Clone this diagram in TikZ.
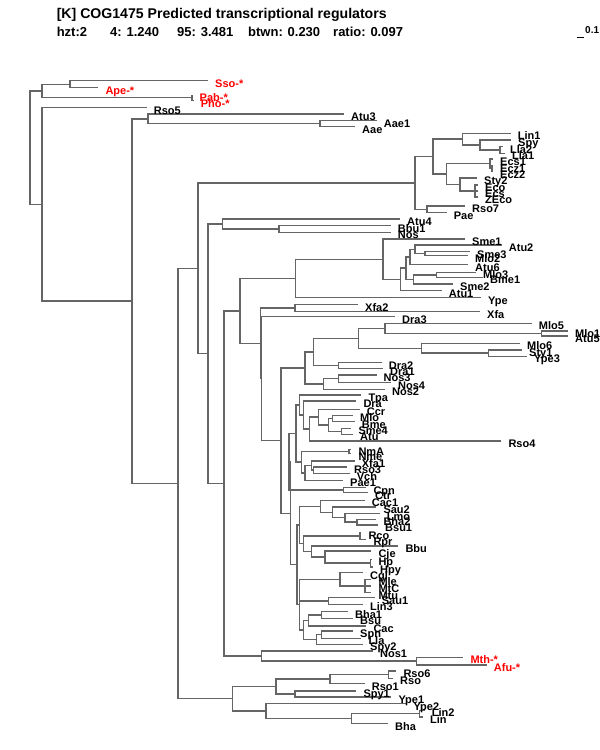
\documentclass[tikz,border=0pt]{standalone}
\usepackage{fontspec}
\setmainfont{Liberation Sans}
\definecolor{ln}{HTML}{656565}
\begin{document}
\begin{tikzpicture}[x=1pt,y=-1pt,
  br/.style={draw=ln,line width=1.4pt},
  lab/.style={anchor=base west,inner sep=0pt,font=\fontsize{11}{13}\selectfont\bfseries,xshift=7pt,yshift=-6.5pt},
  rlab/.style={lab,text=red},
  hdr/.style={anchor=base west,inner sep=0pt,font=\fontsize{13}{16}\selectfont\bfseries}]
\useasboundingbox (0,0) rectangle (600,750);
% header
\node[hdr,font=\fontsize{14.1}{16}\selectfont\bfseries] (title) at (56.6,18.5) {[K] COG1475 Predicted transcriptional regulators};
\node[hdr] (h1) at (56.6,36) {hzt:2};
\node[hdr] (h2) at (110,36) {4: 1.240};
\node[hdr] (h3) at (177,36) {95: 3.481};
\node[hdr] (h4) at (248,36) {btwn: 0.230};
\node[hdr] (h5) at (333,36) {ratio: 0.097};
\coordinate (sb1) at (577,37); \coordinate (sb2) at (584,37);
\draw[black,line width=1pt] (sb1) -- (sb2);
\node[anchor=base west,inner sep=0pt,font=\fontsize{10}{12}\selectfont\bfseries] (sbl) at (585,33) {0.1};
% internal nodes
\coordinate (r0) at (30,147.7);
\coordinate (A) at (42,91);
\coordinate (B) at (70,84.2);
\coordinate (PP) at (192,97.75);
\coordinate (C) at (42,204.4);
\coordinate (D) at (132,301.15);
\coordinate (E) at (148,118.8);
\coordinate (E2) at (320,123.6);
\coordinate (F) at (178,483.5);
\coordinate (G) at (198,268.35);
\coordinate (S) at (415,183);
\coordinate (T) at (433,156.6);
\coordinate (U) at (462.7,139.1);
\coordinate (V) at (480,144.95);
\coordinate (W) at (500,149.9);
\coordinate (X) at (446.7,174.1);
\coordinate (Y) at (490,163.75);
\coordinate (Y2) at (492,168.5);
\coordinate (Z) at (460,184.5);
\coordinate (Z2) at (475,191);
\coordinate (RP) at (427,209.35);
\coordinate (I) at (208,353.7);
\coordinate (J) at (222.7,224);
\coordinate (BN) at (279,229);
\coordinate (K) at (224,483.45);
\coordinate (L) at (240,310.9);
\coordinate (M) at (295.7,278.45);
\coordinate (N) at (383,259.2);
\coordinate (O) at (400.7,279.4);
\coordinate (P) at (406,268.15);
\coordinate (P2) at (410,256.9);
\coordinate (Q) at (415,249.35);
\coordinate (R1) at (425,253.7);
\coordinate (R2) at (413.3,279.4);
\coordinate (R3) at (436.7,274.8);
\coordinate (AA) at (260.5,343.3);
\coordinate (XF) at (295,308);
\coordinate (AB) at (261.5,378.6);
\coordinate (N281) at (281,440.55);
\coordinate (N305) at (305,367.9);
\coordinate (N313) at (313.3,351.9);
\coordinate (N358) at (358.3,338.3);
\coordinate (N385) at (385,328.4);
\coordinate (N541) at (541.7,333.5);
\coordinate (N421) at (421.7,348.2);
\coordinate (N488) at (488.3,353.15);
\coordinate (N338) at (338.3,365.5);
\coordinate (N323) at (323.3,383.9);
\coordinate (N338b) at (338.3,378.65);
\coordinate (NB) at (290.5,513.2);
\coordinate (ND) at (289,461.7);
\coordinate (TT) at (296,433.45);
\coordinate (TA) at (299.3,404.8);
\coordinate (T5) at (303.3,414.85);
\coordinate (T6) at (309.3,428.9);
\coordinate (T4) at (318.3,417);
\coordinate (T3) at (328.3,424.8);
\coordinate (T2) at (332.7,418.35);
\coordinate (T1) at (341.7,431.2);
\coordinate (G1) at (301.7,462.1);
\coordinate (NM) at (349,451.35);
\coordinate (G4) at (305,472.85);
\coordinate (G3) at (311.7,465.5);
\coordinate (RV) at (313.3,470.15);
\coordinate (CC) at (343.3,490);
\coordinate (NF) at (297,564.7);
\coordinate (NU) at (299.3,524.95);
\coordinate (NC1) at (320.7,506.25);
\coordinate (NC2) at (332.7,512.3);
\coordinate (NC3) at (345,517.75);
\coordinate (NC4) at (357,522);
\coordinate (RB) at (303.3,543.65);
\coordinate (RR) at (360,535.85);
\coordinate (BB) at (311.7,551.45);
\coordinate (CJ) at (325,556.9);
\coordinate (HH) at (370.7,563);
\coordinate (NW) at (299.3,604.5);
\coordinate (CG) at (340,579.2);
\coordinate (MM) at (365,585.85);
\coordinate (SL) at (328.3,600.85);
\coordinate (BS) at (303.3,629.8);
\coordinate (BC) at (308.3,620.3);
\coordinate (BB1) at (321.7,614.85);
\coordinate (SS) at (316.7,639.35);
\coordinate (SP) at (321.7,634.5);
\coordinate (NK) at (261.7,656);
\coordinate (MA) at (416.7,661.15);
\coordinate (H) at (232.7,698.7);
\coordinate (H1) at (276,686.4);
\coordinate (H3) at (330,679);
\coordinate (H5) at (388.3,674.5);
\coordinate (H4) at (295,693.8);
\coordinate (H2) at (266,711);
\coordinate (H6) at (351.7,718.5);
\coordinate (H7) at (419.3,713.5);
% leaves
\foreach \n/\x/\y in {Sso/208/80.7,Ape/98.3/87.7,Pab/192.5/95.2,Pho/193.7/100.5,Rso5/146.7/107.7,
 Atu3/344/114,Aae1/376.7/120.5,Aae/355/126.7,Lin1/510.7/133.3,Spy/511/140,Lla2/503/146.5,Lla1/505/153.3,
 Ecs1/493/159,Ecz1/493/165.5,Ecz2/493/171.5,Sty2/477/178,Eco/478/185,Ecs/478/191,ZEco/478/197,
 Rso7/465/206,Pae/446.7/212.7,Atu4/400/219,Bbu1/390.7/225.7,Nos/390.7/232.3,Sme1/465/239,
 Atu2/501.7/245,Sme3/470/251.7,Mlo2/468/255.7,Atu6/468/264.5,Mlo3/476/272.3,Bme1/483/277.3,
 Sme2/453/284,Atu1/441.7/290.7,Ype/481/297.7,Xfa2/358/304.5,Xfa/480/311.5,Dra3/395/316.7,
 Mlo5/531.7/323.3,Mlo1/568/331,Atu5/568/336,Mlo6/520/343.3,Sty1/522/350,Ype3/527/356.3,
 Dra2/381.7/362.5,Dra1/383/368.5,Nos3/376.5/374.8,Nos4/391/382.5,Nos2/385/389.2,
 Tpa/361.3/394.8,Dra/356.3/400.8,Ccr/359.7/409.2,Mlo/353/415.2,Bme/354.7/421.5,Sme4/351.3/428.2,
 Atu/353/434.2,Rso4/501.3/440.8,NmA/351.3/449.2,Nme/351.3/453.5,Xfa1/354.7/460.8,Rso3/347/466.8,
 Vch/349.7/473.5,Pae1/343/480.2,Cpn/366.3/487.5,Ctr/368/492.5,Cac1/364.7/500.2,Sau2/376.3/506.8,
 Lmo/379.7/513.5,Bha2/376.3/519.2,Bsu1/378/524.8,Rco/361.3/532.5,Rpr/366.3/539.2,Bbu/398.3/546,
 Cje/371.3/550.8,Hp/371.3/559.2,Hpy/373/566.8,Cgl/363/572.5,Mle/371.3/579.2,MtC/371.3/585.8,
 Mtu/371.3/592.5,Sau1/374.7/597.5,Lin3/363/604.2,Bha1/348/611.5,Bsu/353/618.2,Cac/366.3/625.8,
 Spn/353/630.8,Lla/361.3/638.2,Spy2/363/644.2,Nos1/373/650.8,Mth/463.3/657.3,Afu/486.7/665,
 Rso6/396.3/670.8,Rso/393/678.2,Rso1/364.7/683.5,Spy1/356.3/690.8,Ype1/391.3/696.8,
 Ype2/406.3/703.5,Lin2/424.7/710.2,Lin/423/716.8,Bha/388/723.5}
 {\coordinate (l\n) at (\x,\y);}
% branches
\foreach \p/\c in {r0/A,r0/C,A/B,A/PP,B/lSso,B/lApe,PP/lPab,PP/lPho,C/lRso5,C/D,D/E,D/F,
 E/lAtu3,E/E2,E2/lAae1,E2/lAae,F/G,F/H,G/S,G/I,S/T,S/RP,T/U,T/X,U/lLin1,U/V,V/lSpy,V/W,
 W/lLla2,W/lLla1,X/Y,X/Z,Y/lEcs1,Y/Y2,Y2/lEcz1,Y2/lEcz2,Z/lSty2,Z/Z2,Z2/lEco,Z2/lEcs,Z2/lZEco,
 RP/lRso7,RP/lPae,I/J,I/K,J/lAtu4,J/BN,BN/lBbu1,BN/lNos,K/L,K/NK,L/M,L/AA,M/N,M/lYpe,
 N/lSme1,N/O,O/P,O/lAtu1,P/P2,P/R2,P2/Q,P2/lAtu6,Q/lAtu2,Q/R1,R1/lSme3,R1/lMlo2,R2/R3,R2/lSme2,
 R3/lMlo3,R3/lBme1,AA/XF,AA/AB,XF/lXfa2,XF/lXfa,AB/lDra3,AB/N281,N281/N305,N281/NB,
 N305/N313,N305/N323,N313/N358,N313/N338,N358/N385,N358/N421,N385/lMlo5,N385/N541,
 N541/lMlo1,N541/lAtu5,N421/lMlo6,N421/N488,N488/lSty1,N488/lYpe3,N338/lDra2,N338/lDra1,
 N323/N338b,N323/lNos2,N338b/lNos3,N338b/lNos4,NB/ND,NB/NF,ND/TT,ND/CC,TT/TA,TT/G1,
 TA/lTpa,TA/T5,T5/lDra,T5/T6,T6/T4,T6/lRso4,T4/lCcr,T4/T3,T3/T2,T3/T1,T2/lMlo,T2/lBme,
 T1/lSme4,T1/lAtu,G1/NM,G1/G4,NM/lNmA,NM/lNme,G4/G3,G4/lPae1,G3/lXfa1,G3/RV,RV/lRso3,RV/lVch,
 CC/lCpn,CC/lCtr,NF/NU,NF/NW,NU/NC1,NU/RB,NC1/lCac1,NC1/NC2,NC2/lSau2,NC2/NC3,NC3/lLmo,NC3/NC4,
 NC4/lBha2,NC4/lBsu1,RB/RR,RB/BB,RR/lRco,RR/lRpr,BB/lBbu,BB/CJ,CJ/lCje,CJ/HH,HH/lHp,HH/lHpy,
 NW/CG,NW/SL,NW/BS,CG/lCgl,CG/MM,MM/lMle,MM/lMtC,MM/lMtu,SL/lSau1,SL/lLin3,BS/BC,BS/SS,
 BC/BB1,BC/lCac,BB1/lBha1,BB1/lBsu,SS/SP,SS/lSpy2,SP/lSpn,SP/lLla,NK/lNos1,NK/MA,MA/lMth,MA/lAfu,
 H/H1,H/H2,H1/H3,H1/H4,H3/H5,H3/lRso1,H5/lRso6,H5/lRso,H4/lSpy1,H4/lYpe1,H2/lYpe2,H2/H6,
 H6/H7,H6/lBha,H7/lLin2,H7/lLin}
 {\draw[br] (\p) |- (\c);}
% labels
\foreach \n in {Sso,Ape,Pab,Pho,Mth,Afu}
 {\node[rlab] (t\n) at (l\n) {\n-*};}
\foreach \n in {Rso5,Atu3,Aae1,Aae,Lin1,Spy,Lla2,Lla1,Ecs1,Ecz1,Ecz2,Sty2,Eco,Ecs,ZEco,Rso7,Pae,
 Atu4,Bbu1,Nos,Sme1,Atu2,Sme3,Mlo2,Atu6,Mlo3,Bme1,Sme2,Atu1,Ype,Xfa2,Xfa,Dra3,Mlo5,Mlo1,Atu5,
 Mlo6,Sty1,Ype3,Dra2,Dra1,Nos3,Nos4,Nos2,Tpa,Dra,Ccr,Mlo,Bme,Sme4,Atu,Rso4,NmA,Nme,Xfa1,Rso3,
 Vch,Pae1,Cpn,Ctr,Cac1,Sau2,Lmo,Bha2,Bsu1,Rco,Rpr,Bbu,Cje,Hp,Hpy,Cgl,Mle,MtC,Mtu,Sau1,Lin3,
 Bha1,Bsu,Cac,Spn,Lla,Spy2,Nos1,Rso6,Rso,Rso1,Spy1,Ype1,Ype2,Lin2,Lin,Bha}
 {\node[lab] (t\n) at (l\n) {\n};}
\end{tikzpicture}
\end{document}
